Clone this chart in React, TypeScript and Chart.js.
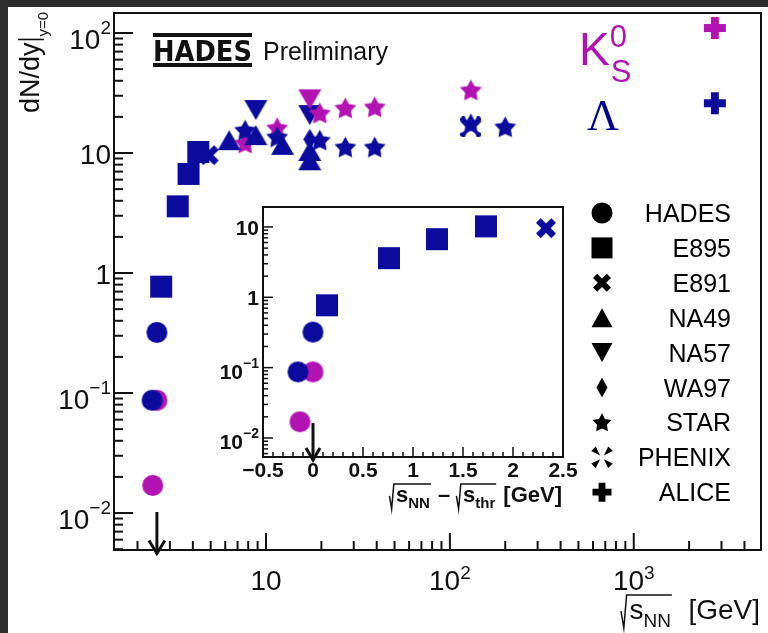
import React, { useEffect, useRef } from "react";
import { Chart, registerables } from "chart.js";
Chart.register(...registerables);

const W = 768;
const H = 633;
const FONT = "'Liberation Sans', Arial, Helvetica, sans-serif";
const SERIF = "'Liberation Serif', 'Times New Roman', serif";
const BLUE = "#0b0b9e";
const MAGENTA = "#b313b3";
const INK = "#111111";

// ---- physics constant ----
const SQRT_S_THR = 2.55;

// ---- data (sqrt(s_NN) in GeV, dN/dy at y=0) ----
const HADES_LAMBDA_X = [2.40, 2.55];
const HADES_LAMBDA_Y = [0.087, 0.32];
const HADES_K0S_X = [2.42, 2.55];
const HADES_K0S_Y = [0.017, 0.087];
const E895_LAMBDA_X = [2.69, 3.31, 3.79, 4.28];
const E895_LAMBDA_Y = [0.77, 3.6, 6.7, 10.2];
const E891_LAMBDA_X = [4.88];
const E891_LAMBDA_Y = [9.6];
const NA49_LAMBDA_X = [6.3, 8.8, 12.3, 17.3, 17.3];
const NA49_LAMBDA_Y = [12.8, 14.1, 11.7, 10.4, 8.7];
const NA57_LAMBDA_X = [8.8, 17.3];
const NA57_LAMBDA_Y = [22.8, 20.7];
const NA57_K0S_X = [17.3];
const NA57_K0S_Y = [28.0];
const WA97_LAMBDA_X = [17.3];
const WA97_LAMBDA_Y = [13.0];
const STAR_LAMBDA_X = [7.7, 11.5, 19.6, 27, 39, 130, 200];
const STAR_LAMBDA_Y = [15.5, 13.6, 12.8, 11.2, 11.2, 17.5, 16.5];
const STAR_K0S_X = [7.7, 11.5, 19.6, 27, 39, 130];
const STAR_K0S_Y = [12.1, 16.2, 21.5, 23.7, 24.2, 33.5];
const PHENIX_LAMBDA_X = [130];
const PHENIX_LAMBDA_Y = [16.5];
const ALICE_LAMBDA_X = [2760];
const ALICE_LAMBDA_Y = [26];
const ALICE_K0S_X = [2760];
const ALICE_K0S_Y = [110];

// ---- axes ----
const MAIN_X_MIN = 1.49;
const MAIN_X_MAX = 4920;
const MAIN_Y_MIN = 0.00492;
const MAIN_Y_MAX = 146.8;
const INSET_X_MIN = -0.5;
const INSET_X_MAX = 2.5;
const INSET_Y_MIN = 0.00537;
const INSET_Y_MAX = 19.2;

const MAIN_Y_TICKS = [0.01, 0.1, 1, 10, 100];
const MAIN_Y_TICK_LABELS = [["10", "\u22122"], ["10", "\u22121"], ["1", ""], ["10", ""], ["10", "2"]];
const MAIN_X_TICKS = [10, 100, 1000];
const MAIN_X_TICK_LABELS = [["10", ""], ["10", "2"], ["10", "3"]];
const INSET_X_TICKS = [-0.5, 0, 0.5, 1, 1.5, 2, 2.5];
const INSET_X_TICK_LABELS = ["\u22120.5", "0", "0.5", "1", "1.5", "2", "2.5"];
const INSET_Y_TICKS = [0.01, 0.1, 1, 10];
const INSET_Y_TICK_LABELS = [["10", "\u22122"], ["10", "\u22121"], ["1", ""], ["10", ""]];

const LEGEND_LABELS = ["HADES", "E895", "E891", "NA49", "NA57", "WA97", "STAR", "PHENIX", "ALICE"];
const LEGEND_SHAPES = ["circle", "square", "xcross", "triUp", "triDown", "diamond", "star", "phenix", "plus"];

// ---- marker geometry ----
const SIZE: Record<string, [number, number]> = {
  circle: [21, 21], square: [22, 22], xcross: [20, 20], triUp: [23, 20], triDown: [23, 20],
  diamond: [13, 21], star: [23, 23], phenix: [19, 19], plus: [22, 22],
};
const LEGEND_SIZE: Record<string, [number, number]> = {
  circle: [21, 21], square: [21, 21], xcross: [18, 18], triUp: [21, 19], triDown: [21, 19],
  diamond: [11, 20], star: [20, 20], phenix: [17, 17], plus: [19, 19],
};

function crossPath(ctx: CanvasRenderingContext2D, cx: number, cy: number, L: number, a: number, rot: number) {
  const pts = [[-a, -L], [a, -L], [a, -a], [L, -a], [L, a], [a, a], [a, L], [-a, L], [-a, a], [-L, a], [-L, -a], [-a, -a]];
  const c = Math.cos(rot), s = Math.sin(rot);
  pts.forEach(([px, py], i) => {
    const X = cx + px * c - py * s;
    const Y = cy + px * s + py * c;
    if (i) ctx.lineTo(X, Y); else ctx.moveTo(X, Y);
  });
  ctx.closePath();
}

function drawShape(ctx: CanvasRenderingContext2D, shape: string, cx: number, cy: number, w: number, h: number) {
  const rx = w / 2, ry = h / 2;
  ctx.beginPath();
  switch (shape) {
    case "circle": ctx.ellipse(cx, cy, rx, ry, 0, 0, Math.PI * 2); break;
    case "square": ctx.rect(cx - rx, cy - ry, w, h); break;
    case "triUp": ctx.moveTo(cx, cy - ry); ctx.lineTo(cx + rx, cy + ry); ctx.lineTo(cx - rx, cy + ry); ctx.closePath(); break;
    case "triDown": ctx.moveTo(cx, cy + ry); ctx.lineTo(cx + rx, cy - ry); ctx.lineTo(cx - rx, cy - ry); ctx.closePath(); break;
    case "diamond": ctx.moveTo(cx, cy - ry); ctx.lineTo(cx + rx, cy); ctx.lineTo(cx, cy + ry); ctx.lineTo(cx - rx, cy); ctx.closePath(); break;
    case "star":
      for (let i = 0; i < 10; i++) {
        const ang = -Math.PI / 2 + (i * Math.PI) / 5;
        const r = i % 2 ? rx * 0.52 : rx;
        const X = cx + r * Math.cos(ang), Y = cy + ry * 0.08 + r * Math.sin(ang);
        if (i) ctx.lineTo(X, Y); else ctx.moveTo(X, Y);
      }
      ctx.closePath();
      break;
    case "plus": crossPath(ctx, cx, cy, rx, rx * 0.36, 0); break;
    case "xcross": {
      const a = rx * 0.33;
      crossPath(ctx, cx, cy, rx * Math.SQRT2 - a, a, Math.PI / 4);
      break;
    }
    case "phenix": {
      const L = rx * Math.SQRT2;
      for (let k = 0; k < 4; k++) {
        const t = Math.PI / 4 + (k * Math.PI) / 2;
        const dx = Math.cos(t), dy = Math.sin(t), px = -dy, py = dx;
        const r0 = L * 0.22, r1 = L, wv = L * 0.27;
        ctx.moveTo(cx + dx * r0, cy + dy * r0);
        ctx.lineTo(cx + dx * r1 + px * wv, cy + dy * r1 + py * wv);
        ctx.lineTo(cx + dx * r1 - px * wv, cy + dy * r1 - py * wv);
        ctx.closePath();
      }
      break;
    }
  }
  ctx.fill();
}

function markerImage(shape: string, color: string, w: number, h: number) {
  const c = document.createElement("canvas");
  c.width = Math.ceil(w) + 2;
  c.height = Math.ceil(h) + 2;
  const ctx = c.getContext("2d")!;
  ctx.fillStyle = color;
  drawShape(ctx, shape, c.width / 2, c.height / 2, w, h);
  return c;
}

function ds(xs: number[], ys: number[], shape: string, color: string, shift = 0) {
  const [w, h] = SIZE[shape];
  return {
    data: xs.map((x, i) => ({ x: x - shift, y: ys[i] })),
    pointStyle: markerImage(shape, color, w, h),
    pointRadius: 6,
    pointHoverRadius: 6,
    showLine: false,
  };
}

function logTickValues(min: number, max: number) {
  const out: { v: number; major: boolean }[] = [];
  for (let e = Math.floor(Math.log10(min)); e <= Math.ceil(Math.log10(max)); e++) {
    for (let k = 1; k <= 9; k++) {
      const v = k * Math.pow(10, e);
      if (v >= min * 0.9999 && v <= max * 1.0001) out.push({ v, major: k === 1 });
    }
  }
  return out;
}

function line(ctx: CanvasRenderingContext2D, x1: number, y1: number, x2: number, y2: number) {
  ctx.beginPath();
  ctx.moveTo(x1, y1);
  ctx.lineTo(x2, y2);
  ctx.stroke();
}

function drawPow(
  ctx: CanvasRenderingContext2D, base: string, sup: string, x: number, baseline: number,
  baseFont: string, supFont: string, supBaseline: number, align: "right" | "center"
) {
  ctx.textAlign = "left";
  ctx.font = baseFont;
  const wb = ctx.measureText(base).width;
  ctx.font = supFont;
  const ws = sup ? ctx.measureText(sup).width : 0;
  const total = wb + ws;
  const left = align === "right" ? x - total : x - total / 2;
  ctx.font = baseFont;
  ctx.fillText(base, left, baseline);
  if (sup) {
    ctx.font = supFont;
    ctx.fillText(sup, left + wb, supBaseline);
  }
}

type Seg = { kind: "text"; t: string } | { kind: "rad"; main: string; sub: string };

function drawTitle(
  ctx: CanvasRenderingContext2D, segs: Seg[], right: number, baseline: number,
  size: number, mainFont: string, subFont: string, subDrop: number, radTop: number
) {
  const radW = size * 0.3;
  const widthOf = () => {
    let w = 0;
    segs.forEach((s) => {
      if (s.kind === "text") { ctx.font = mainFont; w += ctx.measureText(s.t).width; }
      else {
        ctx.font = mainFont; const a = ctx.measureText(s.main).width;
        ctx.font = subFont; const b = ctx.measureText(s.sub).width;
        w += radW + a + b + 2;
      }
    });
    return w;
  };
  let x = right - widthOf();
  ctx.textAlign = "left";
  segs.forEach((s) => {
    if (s.kind === "text") {
      ctx.font = mainFont;
      ctx.fillText(s.t, x, baseline);
      x += ctx.measureText(s.t).width;
    } else {
      ctx.font = mainFont; const a = ctx.measureText(s.main).width;
      ctx.font = subFont; const b = ctx.measureText(s.sub).width;
      ctx.beginPath();
      ctx.moveTo(x, baseline - size * 0.28);
      ctx.lineTo(x + size * 0.1, baseline + subDrop + 1);
      ctx.lineTo(x + size * 0.2, baseline - radTop);
      ctx.lineTo(x + radW + a + b + 1, baseline - radTop);
      ctx.stroke();
      ctx.font = mainFont;
      ctx.fillText(s.main, x + radW, baseline);
      ctx.font = subFont;
      ctx.fillText(s.sub, x + radW + a, baseline + subDrop);
      x += radW + a + b + 2;
    }
  });
}

function drawArrow(ctx: CanvasRenderingContext2D, x: number, y1: number, y2: number, hw: number, hh: number, lw: number) {
  ctx.lineWidth = lw;
  ctx.lineCap = "butt";
  line(ctx, x, y1, x, y2);
  ctx.beginPath();
  ctx.moveTo(x - hw, y2 - hh);
  ctx.lineTo(x, y2);
  ctx.lineTo(x + hw, y2 - hh);
  ctx.stroke();
}

const mainDecor = {
  id: "mainDecor",
  afterDatasetsDraw(chart: any) {
    const ctx: CanvasRenderingContext2D = chart.ctx;
    const { left, right, top, bottom } = chart.chartArea;
    const xs = chart.scales.x, ys = chart.scales.y;
    ctx.save();
    ctx.strokeStyle = INK;
    ctx.fillStyle = INK;
    ctx.lineWidth = 2;
    ctx.strokeRect(left, top, right - left, bottom - top);
    // ticks
    logTickValues(MAIN_Y_MIN, MAIN_Y_MAX).forEach(({ v, major }) => {
      const y = ys.getPixelForValue(v);
      line(ctx, left, y, left + (major ? 19 : 9), y);
    });
    logTickValues(MAIN_X_MIN, MAIN_X_MAX).forEach(({ v, major }) => {
      const x = xs.getPixelForValue(v);
      line(ctx, x, bottom, x, bottom - (major ? 17 : 9));
    });
    // tick labels
    const bf = `28px ${FONT}`, sf = `19px ${FONT}`;
    MAIN_Y_TICKS.forEach((v, i) => {
      const y = ys.getPixelForValue(v);
      const [b, s] = MAIN_Y_TICK_LABELS[i];
      if (s) drawPow(ctx, b, s, left - 3, y + 16, bf, sf, y + 1, "right");
      else drawPow(ctx, b, s, left - 3, y + 11, bf, sf, y, "right");
    });
    MAIN_X_TICKS.forEach((v, i) => {
      const x = xs.getPixelForValue(v);
      const [b, s] = MAIN_X_TICK_LABELS[i];
      drawPow(ctx, b, s, x, 590, bf, sf, 579, "center");
    });
    // x title
    ctx.lineWidth = 1.5;
    drawTitle(ctx, [{ kind: "rad", main: "s", sub: "NN" }, { kind: "text", t: "  [GeV]" }],
      right - 1, 619, 28, `28px ${FONT}`, `19px ${FONT}`, 8, 24);
    // y title (rotated)
    ctx.save();
    ctx.translate(39, 113);
    ctx.rotate(-Math.PI / 2);
    ctx.font = `27px ${FONT}`;
    ctx.textAlign = "left";
    ctx.fillText("dN/dy", 0, 0);
    const tw = ctx.measureText("dN/dy").width;
    ctx.lineWidth = 1.6;
    line(ctx, tw + 3, -21, tw + 3, 5);
    ctx.font = `15px ${FONT}`;
    ctx.fillText("y=0", tw + 6, 9);
    ctx.restore();
    // threshold arrow
    ctx.strokeStyle = INK;
    drawArrow(ctx, xs.getPixelForValue(SQRT_S_THR), ys.getPixelForValue(0.0102), ys.getPixelForValue(0.0046), 8, 13, 3);
    // HADES logo + Preliminary
    ctx.fillRect(153, 33, 99, 4);
    ctx.fillRect(153, 63, 99, 4);
    ctx.font = `900 29px 'Liberation Sans Narrow', 'DejaVu Sans Condensed', ${FONT}`;
    ctx.textAlign = "left";
    ctx.fillText("HADES", 153, 61, 99);
    ctx.font = `25px ${FONT}`;
    ctx.fillText("Preliminary", 263, 60);
    // particle labels
    ctx.fillStyle = MAGENTA;
    ctx.font = `46px ${FONT}`;
    ctx.fillText("K", 579, 65);
    const kw = ctx.measureText("K").width;
    ctx.font = `31px ${FONT}`;
    ctx.fillText("0", 579 + kw, 47);
    ctx.fillText("S", 579 + kw + 1, 82);
    ctx.fillStyle = "#000090";
    ctx.font = `44px ${SERIF}`;
    ctx.fillText("\u039B", 587, 130);
    // legend
    ctx.fillStyle = "#000";
    LEGEND_LABELS.forEach((lab, i) => {
      const yc = 213 + i * 34.9;
      const shape = LEGEND_SHAPES[i];
      const [w, h] = LEGEND_SIZE[shape];
      drawShape(ctx, shape, 602, yc, w, h);
      ctx.font = `25px ${FONT}`;
      ctx.textAlign = "right";
      ctx.fillText(lab, 731, yc + 9);
    });
    ctx.restore();
  },
};

const insetDecor = {
  id: "insetDecor",
  afterDatasetsDraw(chart: any) {
    const ctx: CanvasRenderingContext2D = chart.ctx;
    const { left, right, top, bottom } = chart.chartArea;
    const xs = chart.scales.x, ys = chart.scales.y;
    ctx.save();
    ctx.strokeStyle = INK;
    ctx.fillStyle = INK;
    ctx.lineWidth = 2;
    ctx.strokeRect(left, top, right - left, bottom - top);
    ctx.lineWidth = 1.5;
    logTickValues(INSET_Y_MIN, INSET_Y_MAX).forEach(({ v, major }) => {
      const y = ys.getPixelForValue(v);
      line(ctx, left, y, left + (major ? 10 : 5), y);
    });
    for (let k = 0; k <= 30; k++) {
      const v = INSET_X_MIN + k * 0.1;
      const x = xs.getPixelForValue(v);
      line(ctx, x, bottom, x, bottom - (k % 5 === 0 ? 10 : 5));
    }
    const bf = `bold 21px ${FONT}`, sf = `bold 14px ${FONT}`;
    INSET_Y_TICKS.forEach((v, i) => {
      const y = ys.getPixelForValue(v);
      const [b, s] = INSET_Y_TICK_LABELS[i];
      if (s) drawPow(ctx, b, s, left - 4, y + 11, bf, sf, y + 0, "right");
      else drawPow(ctx, b, s, left - 4, y + 8, bf, sf, y, "right");
    });
    INSET_X_TICKS.forEach((v, i) => {
      const x = xs.getPixelForValue(v);
      drawPow(ctx, INSET_X_TICK_LABELS[i], "", x, 477, bf, sf, 0, "center");
    });
    ctx.lineWidth = 1.5;
    drawTitle(ctx, [
      { kind: "rad", main: "s", sub: "NN" },
      { kind: "text", t: " \u2013 " },
      { kind: "rad", main: "s", sub: "thr" },
      { kind: "text", t: " [GeV]" },
    ], right - 1, 502, 22, `bold 22px ${FONT}`, `bold 15px ${FONT}`, 6, 18);
    drawArrow(ctx, xs.getPixelForValue(0), ys.getPixelForValue(0.0163), ys.getPixelForValue(0.00487), 7, 12, 3);
    ctx.restore();
  },
};

export default function App() {
  const mainRef = useRef<HTMLCanvasElement>(null);
  const insetRef = useRef<HTMLCanvasElement>(null);

  useEffect(() => {
    document.body.style.margin = "0";
    const main = new Chart(mainRef.current!, {
      type: "scatter",
      data: {
        datasets: [
          ds(ALICE_LAMBDA_X, ALICE_LAMBDA_Y, "plus", BLUE),
          ds(ALICE_K0S_X, ALICE_K0S_Y, "plus", MAGENTA),
          ds(WA97_LAMBDA_X, WA97_LAMBDA_Y, "diamond", BLUE),
          ds(PHENIX_LAMBDA_X, PHENIX_LAMBDA_Y, "phenix", BLUE),
          ds(STAR_LAMBDA_X, STAR_LAMBDA_Y, "star", BLUE),
          ds(NA49_LAMBDA_X, NA49_LAMBDA_Y, "triUp", BLUE),
          ds(STAR_K0S_X, STAR_K0S_Y, "star", MAGENTA),
          ds(NA57_K0S_X, NA57_K0S_Y, "triDown", MAGENTA),
          ds(NA57_LAMBDA_X, NA57_LAMBDA_Y, "triDown", BLUE),
          ds(E891_LAMBDA_X, E891_LAMBDA_Y, "xcross", BLUE),
          ds(E895_LAMBDA_X, E895_LAMBDA_Y, "square", BLUE),
          ds(HADES_LAMBDA_X, HADES_LAMBDA_Y, "circle", BLUE),
          ds(HADES_K0S_X, HADES_K0S_Y, "circle", MAGENTA),
        ] as any,
      },
      options: {
        animation: false,
        responsive: false,
        events: [],
        layout: { padding: { left: 114, right: W - 765, top: 13, bottom: H - 550 } },
        plugins: { legend: { display: false }, tooltip: { enabled: false } },
        scales: {
          x: { type: "logarithmic", min: MAIN_X_MIN, max: MAIN_X_MAX, display: false },
          y: { type: "logarithmic", min: MAIN_Y_MIN, max: MAIN_Y_MAX, display: false },
        },
      },
      plugins: [mainDecor],
    } as any);

    const inset = new Chart(insetRef.current!, {
      type: "scatter",
      data: {
        datasets: [
          ds(E891_LAMBDA_X, E891_LAMBDA_Y, "xcross", BLUE, SQRT_S_THR),
          ds(E895_LAMBDA_X, E895_LAMBDA_Y, "square", BLUE, SQRT_S_THR),
          ds(HADES_LAMBDA_X, HADES_LAMBDA_Y, "circle", BLUE, SQRT_S_THR),
          ds(HADES_K0S_X, HADES_K0S_Y, "circle", MAGENTA, SQRT_S_THR),
        ] as any,
      },
      options: {
        animation: false,
        responsive: false,
        events: [],
        layout: { padding: { left: 263, right: W - 563, top: 207, bottom: H - 457 } },
        plugins: { legend: { display: false }, tooltip: { enabled: false } },
        scales: {
          x: { type: "linear", min: INSET_X_MIN, max: INSET_X_MAX, display: false },
          y: { type: "logarithmic", min: INSET_Y_MIN, max: INSET_Y_MAX, display: false },
        },
      },
      plugins: [insetDecor],
    } as any);

    return () => {
      main.destroy();
      inset.destroy();
    };
  }, []);

  return (
    <div style={{ position: "relative", width: W, height: H, background: "#2d2d2d", overflow: "hidden" }}>
      <div style={{ position: "absolute", left: 8, top: 7, right: 0, bottom: 0, background: "#ffffff" }} />
      <canvas ref={mainRef} width={W} height={H} style={{ position: "absolute", left: 0, top: 0, width: W, height: H }} />
      <canvas ref={insetRef} width={W} height={H} style={{ position: "absolute", left: 0, top: 0, width: W, height: H }} />
    </div>
  );
}
